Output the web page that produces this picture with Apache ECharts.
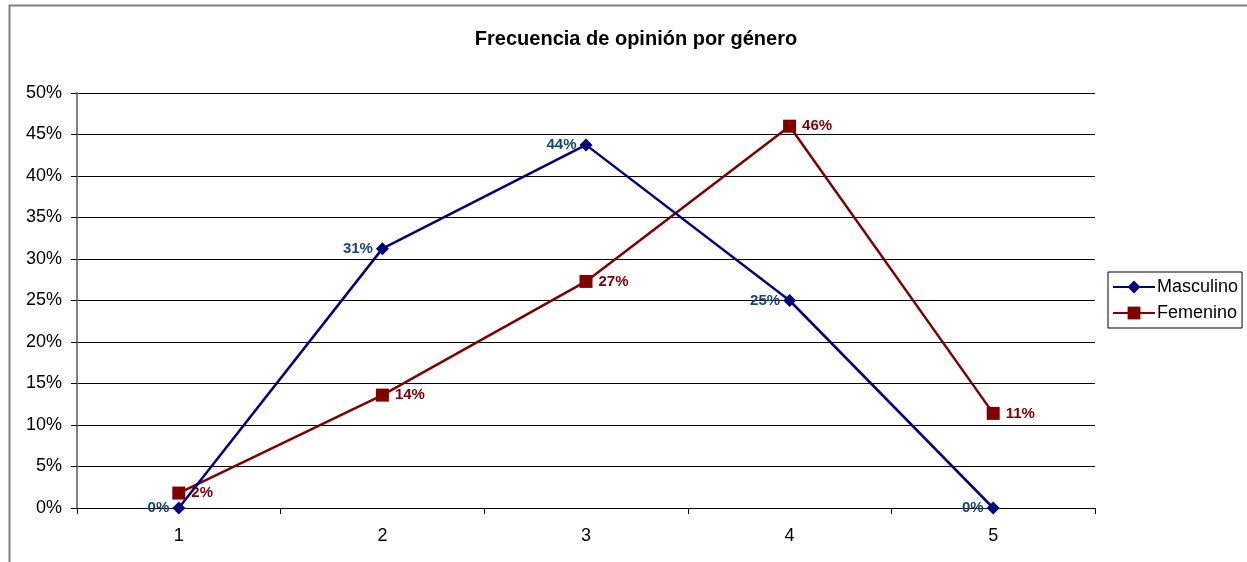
<!DOCTYPE html>
<html>
<head>
<meta charset="utf-8">
<style>
  html, body { margin: 0; padding: 0; background: #fff; }
  #chart { width: 1247px; height: 562px; }
</style>
<script src="https://cdn.jsdelivr.net/npm/echarts@6/dist/echarts.min.js"></script>
</head>
<body>
<div id="chart"></div>
<script>
// Opinion frequency by gender (percent of respondents per rating)
const categories = ['1', '2', '3', '4', '5'];
const masculino = [0, 31.25, 43.75, 25, 0];
const femenino = [1.8, 13.6, 27.3, 46.0, 11.4];
const yTicks = { min: 0, max: 50, step: 5 };

const FONT = '"Liberation Sans", Arial, sans-serif';
const chart = echarts.init(document.getElementById('chart'), null, { renderer: 'canvas' });

const pctLabel = p => Math.round(p.value) + '%';

chart.setOption({
  backgroundColor: '#ffffff',
  animation: false,
  graphic: [{
    type: 'rect',
    shape: { x: 9.5, y: 5.5, width: 1300, height: 600 },
    style: { fill: 'none', stroke: '#808080', lineWidth: 2 },
    silent: true,
    z: -1
  }],
  title: {
    text: 'Frecuencia de opinión por género',
    left: 631,
    top: 24,
    textAlign: 'center',
    textStyle: { fontFamily: FONT, fontSize: 20, fontWeight: 'bold', color: '#000' }
  },
  legend: {
    orient: 'vertical',
    left: 1108,
    top: 272,
    itemWidth: 42,
    itemHeight: 16,
    itemGap: 8,
    padding: [6, 4, 6, 4],
    borderColor: '#000',
    borderWidth: 1,
    textStyle: { fontFamily: FONT, fontSize: 18, color: '#000', padding: [0, 0, 0, -3] },
    data: ['Masculino', 'Femenino']
  },
  grid: { left: 77, right: 152, top: 93, bottom: 54, containLabel: false },
  xAxis: {
    type: 'category',
    data: categories,
    boundaryGap: true,
    axisLine: { lineStyle: { color: '#000', width: 1 } },
    axisTick: { show: true, length: 6, lineStyle: { color: '#000' } },
    axisLabel: { fontFamily: FONT, fontSize: 18, color: '#000', margin: 19 },
    splitLine: { show: false }
  },
  yAxis: {
    type: 'value',
    min: yTicks.min,
    max: yTicks.max,
    interval: yTicks.step,
    axisLine: { show: true, lineStyle: { color: '#808080', width: 2 } },
    axisTick: { show: true, length: 6, lineStyle: { color: '#000' } },
    axisLabel: { fontFamily: FONT, fontSize: 18, color: '#000', margin: 15, formatter: '{value}%' },
    splitLine: { show: true, lineStyle: { color: '#000', width: 1 } }
  },
  series: [
    {
      name: 'Masculino',
      type: 'line',
      data: masculino,
      symbol: 'diamond',
      symbolSize: 13,
      showAllSymbol: true,
      lineStyle: { color: '#000080', width: 2.5 },
      itemStyle: { color: '#000080' },
      label: {
        show: true, position: 'left', distance: 3, formatter: pctLabel,
        fontFamily: FONT, fontSize: 15, fontWeight: 'bold', color: '#17457a'
      },
      z: 3
    },
    {
      name: 'Femenino',
      type: 'line',
      data: femenino,
      symbol: 'rect',
      symbolSize: 13,
      showAllSymbol: true,
      lineStyle: { color: '#800000', width: 2.5 },
      itemStyle: { color: '#800000' },
      label: {
        show: true, position: 'right', distance: 6, formatter: pctLabel,
        fontFamily: FONT, fontSize: 15, fontWeight: 'bold', color: '#800000'
      },
      z: 2
    }
  ]
});
</script>
</body>
</html>
